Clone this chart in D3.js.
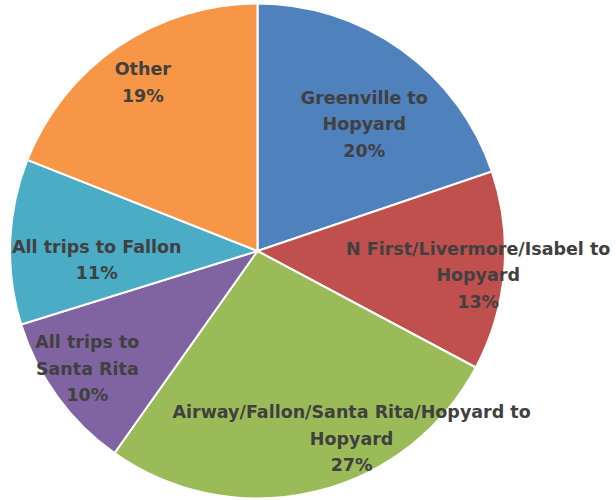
<!DOCTYPE html>
<html>
<head>
<meta charset="utf-8">
<script src="https://cdn.jsdelivr.net/npm/d3@7"></script>
<style>
  body { margin: 0; background: #fff; }
  svg { display: block; }
</style>
</head>
<body>
<div id="chart"></div>
<script>
const categories = [
  "Greenville to\nHopyard",
  "N First/Livermore/Isabel to\nHopyard",
  "Airway/Fallon/Santa Rita/Hopyard to\nHopyard",
  "All trips to\nSanta Rita",
  "All trips to Fallon",
  "Other"
];
const shares = [0.198, 0.130, 0.270, 0.104, 0.108, 0.190];
const colors = ['#4F81BD', '#C0504D', '#9BBB59', '#8064A2', '#4BACC6', '#F79646'];

// where each label sits: [angle shift from slice middle (deg), distance from centre]
const labelPlace = [[4.4, 166], [1.6, 222], [-13.3, 210], [1.3, 207], [-5.4, 161], [0, 204]];

const width = 616;
const height = 500;
const cx = 257.5;
const cy = 251;
const radius = 247.5;
const lineH = 26.5;

const svg = d3.select('#chart')
  .append('svg')
  .attr('width', width)
  .attr('height', height)

const g = svg.append('g')
  .attr('transform', `translate(${cx}, ${cy})`)

const pie = d3.pie().sort(null).value(d => d)
const arcs = pie(shares)

const arc = d3.arc().innerRadius(0).outerRadius(radius)

g.selectAll('path')
  .data(arcs)
  .enter()
  .append('path')
  .attr('d', arc)
  .attr('fill', (d, i) => colors[i])
  .attr('stroke', '#fff')
  .attr('stroke-width', 2)

const fmt = d3.format('.0%')

g.selectAll('text.label')
  .data(arcs)
  .enter()
  .append('text')
  .attr('class', 'label')
  .attr('text-anchor', 'middle')
  .attr('fill', '#404040')
  .style('font-family', '"DejaVu Sans", sans-serif')
  .style('font-weight', 'bold')
  .style('font-size', '17.5px')
  .each(function (d, i) {
    const a = (d.startAngle + d.endAngle) / 2 + labelPlace[i][0] * Math.PI / 180;
    const r = labelPlace[i][1];
    const x = Math.sin(a) * r;
    const y = -Math.cos(a) * r;
    const lines = categories[i].split('\n').concat([fmt(shares[i])]);
    const top = y - (lines.length - 1) * lineH / 2;
    const t = d3.select(this);
    lines.forEach((ln, k) => {
      t.append('tspan')
        .attr('x', x)
        .attr('y', top + k * lineH)
        .attr('dy', '0.35em')
        .text(ln)
    })
  })
</script>
</body>
</html>
